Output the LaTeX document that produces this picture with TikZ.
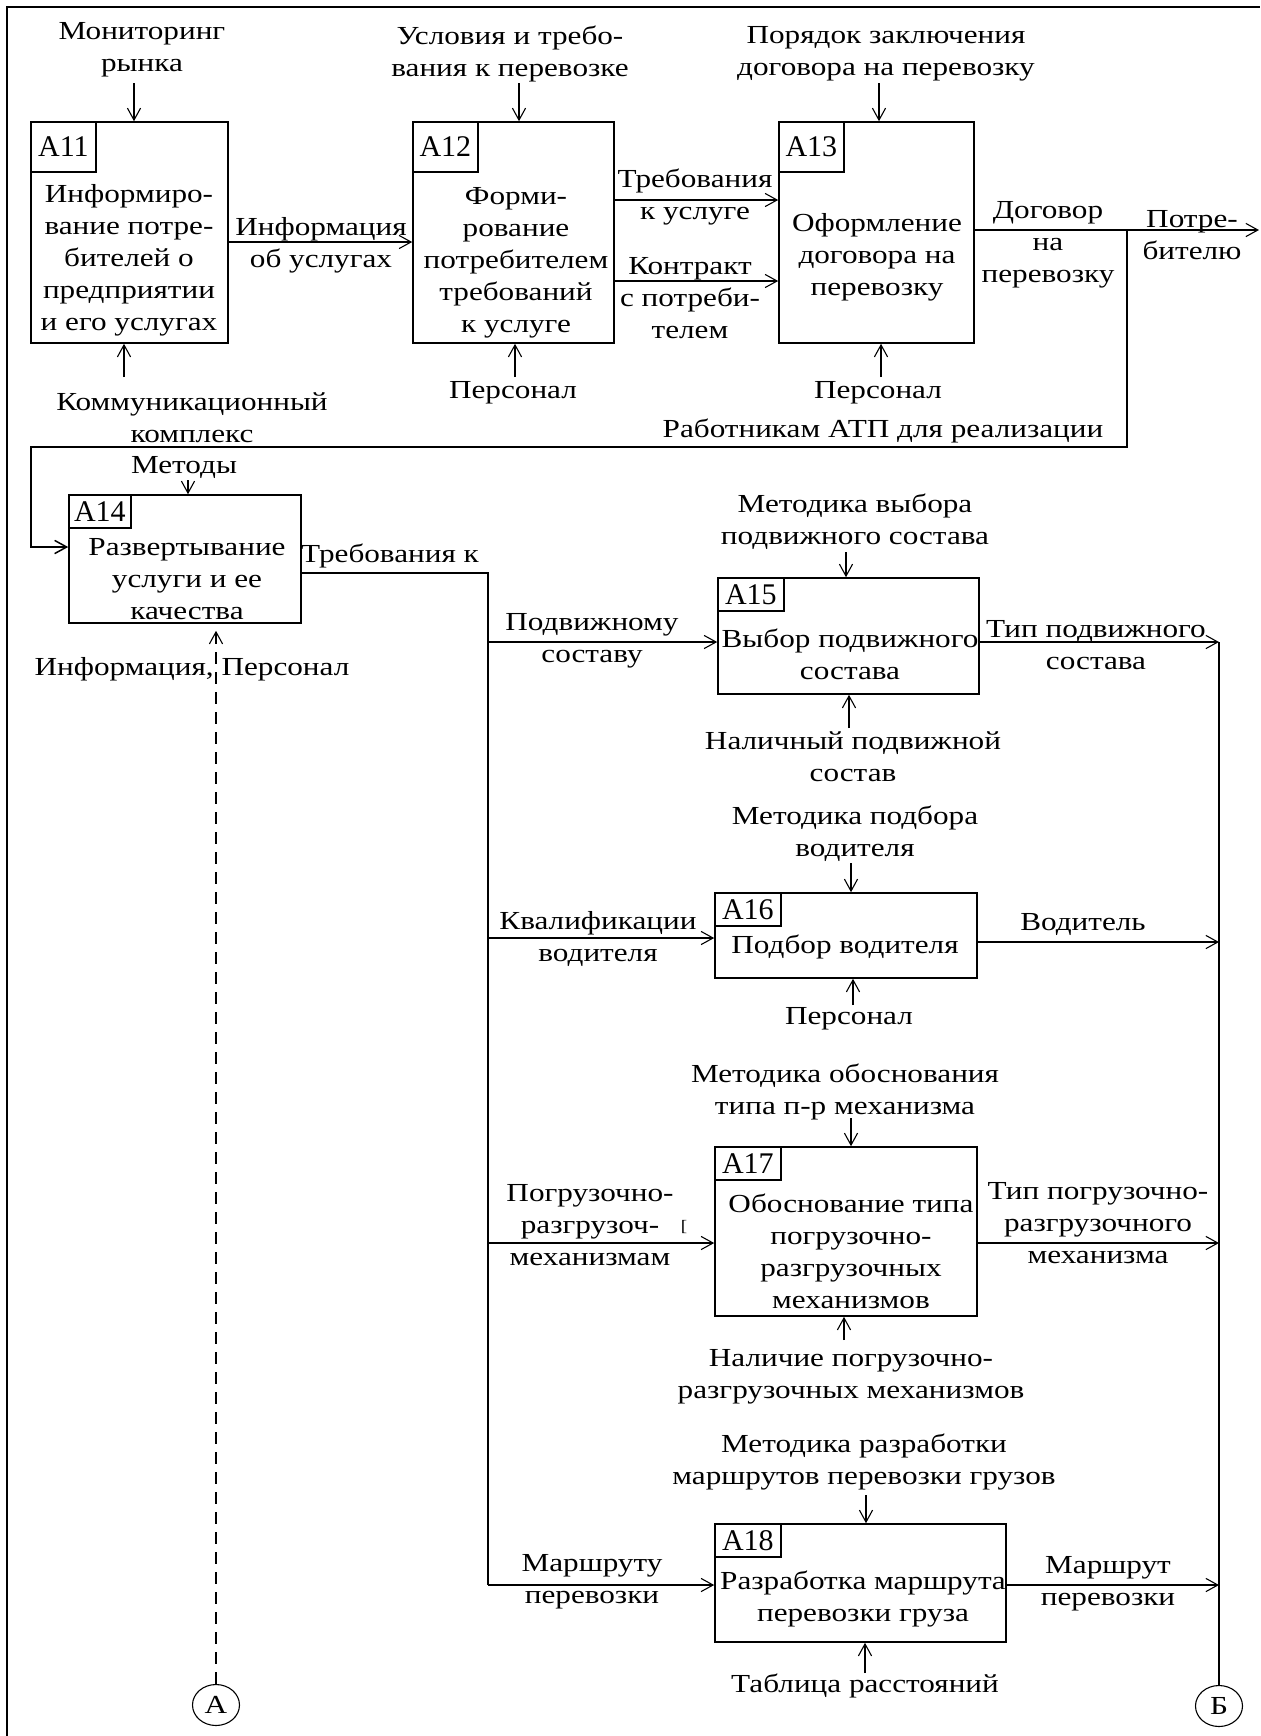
\documentclass[tikz,border=0pt]{standalone}
\usepackage{fontspec}
\setmainfont{Liberation Serif}[FakeStretch=1.2]
\newfontfamily\idfam{Liberation Serif}
\usetikzlibrary{arrows.meta,fit,shapes.geometric}
\newcommand\bodyfont{\fontsize{13}{16}\selectfont}
\newcommand\idfont{\idfam\fontsize{15}{17}\selectfont}
\tikzset{
  box/.style={draw, line width=0.8pt, inner sep=0pt},
  idbig/.style={draw, line width=0.7pt, inner sep=0pt, minimum width=32.5pt, minimum height=25pt, font=\idfont, anchor=north west},
  idsmall/.style={draw, line width=0.7pt, inner sep=0pt, minimum width=33pt, minimum height=16.5pt, font=\idfont, anchor=north west},
  lbl/.style={align=center, inner sep=0pt, font=\bodyfont},
  arr/.style={-{Straight Barb[length=6pt,width=6.6pt]}, line width=0.55pt},
  trunk/.style={line width=0.95pt},
  conn/.style={draw, ellipse, line width=0.55pt, inner sep=0pt, minimum width=23.5pt, minimum height=20.5pt, font=\bodyfont},
}
\begin{document}
\begin{tikzpicture}[x=0.5pt,y=-0.5pt]
\useasboundingbox (0,0) rectangle (1260,1736);
% frame
\coordinate (fbl) at (7,1736);
\coordinate (ftl) at (7,7);
\coordinate (ftr) at (1260,7);
\draw[line width=1.3pt] (fbl) -- (ftl) -- (ftr);

% activity boxes
\node[box, fit={(31,122)(228,343)}] (a11) {};
\node[box, fit={(413,122)(614,343)}] (a12) {};
\node[box, fit={(779,122)(974,343)}] (a13) {};
\node[box, fit={(69,495)(301,623)}] (a14) {};
\node[box, fit={(718,578)(979,694)}] (a15) {};
\node[box, fit={(715,893)(977,978)}] (a16) {};
\node[box, fit={(715,1147)(977,1316)}] (a17) {};
\node[box, fit={(715,1524)(1006,1642)}] (a18) {};

% id boxes
\node[idbig] (a11n) at (a11.north west) {A11};
\node[idbig] (a12n) at (a12.north west) {A12};
\node[idbig] (a13n) at (a13.north west) {A13};
\node[idsmall, minimum width=31pt] (a14n) at (a14.north west) {A14};
\node[idsmall] (a15n) at (a15.north west) {A15};
\node[idsmall] (a16n) at (a16.north west) {A16};
\node[idsmall] (a17n) at (a17.north west) {A17};
\node[idsmall] (a18n) at (a18.north west) {A18};

% box texts
\node[lbl] (a11t) at (129,260) {Информиро-\\вание потре-\\бителей о\\предприятии\\и его услугах};
\node[lbl] (a12t) at (516,263) {Форми-\\рование\\потребителем\\требований\\к услуге};
\node[lbl] (a13t) at (877,257) {Оформление\\договора на\\перевозку};
\node[lbl] (a14t) at (187,579) {Развертывание\\услуги и ее\\качества};
\node[lbl] (a15t) at (850,654) {Выбор подвижного\\состава};
\node[lbl] (a16t) at (845,947) {Подбор водителя};
\node[lbl] (a17t) at (851,1251) {Обоснование типа\\погрузочно-\\разгрузочных\\механизмов};
\node[lbl] (a18t) at (863,1599) {Разработка маршрута\\перевозки груза};

% arrow labels
\node[lbl] (l1) at (142,50) {Мониторинг\\рынка};
\node[lbl] (l2) at (510,54) {Условия и требо-\\вания к перевозке};
\node[lbl] (l3) at (886,54) {Порядок заключения\\договора на перевозку};
\node[lbl] (l4) at (321,245) {Информация\\об услугах};
\node[lbl] (l5) at (695,197) {Требования\\к услуге};
\node[lbl] (l6) at (690,298) {Контракт\\с потреби-\\телем};
\node[lbl] (l7) at (1048,245) {Договор\\на\\перевозку};
\node[lbl] (l8) at (1192,235) {Потре-\\бителю};
\node[lbl] (l9) at (192,418) {Коммуникационный\\комплекс};
\node[lbl] (l10) at (513,393) {Персонал};
\node[lbl] (l11) at (878,393) {Персонал};
\node[lbl] (l12) at (883,431) {Работникам АТП для реализации};
\node[lbl] (l13) at (184,467) {Методы};
\node[lbl] (l14) at (390,556) {Требования к};
\node[lbl] (l15) at (192,669) {Информация, Персонал};
\node[lbl] (l16) at (855,522) {Методика выбора\\подвижного состава};
\node[lbl] (l17) at (592,641) {Подвижному\\составу};
\node[lbl] (l18) at (1096,645) {Тип подвижного\\состава};
\node[lbl] (l19) at (853,757) {Наличный подвижной\\состав};
\node[lbl] (l20) at (855,834) {Методика подбора\\водителя};
\node[lbl] (l21) at (598,939) {Квалификации\\водителя};
\node[lbl] (l22) at (1083,924) {Водитель};
\node[lbl] (l23) at (849,1019) {Персонал};
\node[lbl] (l24) at (845,1092) {Методика обоснования\\типа п-р механизма};
\node[lbl] (l25) at (590,1225) {Погрузочно-\\разгрузоч-\\механизмам};
\node[inner sep=0pt, font=\fontsize{8}{9}\selectfont] (l25b) at (684,1227) {[};
\node[lbl] (l26) at (1098,1223) {Тип погрузочно-\\разгрузочного\\механизма};
\node[lbl] (l27) at (851,1377) {Наличие погрузочно-\\разгрузочных механизмов};
\node[lbl] (l28) at (864,1462) {Методика разработки\\маршрутов перевозки грузов};
\node[lbl] (l29) at (592,1582) {Маршруту\\перевозки};
\node[lbl] (l30) at (1108,1584) {Маршрут\\перевозки};
\node[lbl] (l31) at (865,1686) {Таблица расстояний};

% connector circles
\node[conn] (ca) at (216,1705) {А};
\node[conn] (cb) at (1219,1706) {Б};

% free ends
\coordinate (c11t) at (134,83);
\coordinate (c11b) at (124,377);
\coordinate (c12t) at (519,83);
\coordinate (c12b) at (515,377);
\coordinate (c13t) at (879,83);
\coordinate (c13b) at (881,377);
\coordinate (c14t) at (188,480);
\coordinate (c15t) at (846,552);
\coordinate (c15b) at (849,728);
\coordinate (c16t) at (851,863);
\coordinate (c16b) at (853,1005);
\coordinate (c17t) at (851,1118);
\coordinate (c17b) at (844,1340);
\coordinate (c18t) at (866,1495);
\coordinate (c18b) at (865,1673);
\coordinate (out) at (1259,230);
\coordinate (br1) at (1127,230);
\coordinate (br2) at (1127,447);
\coordinate (br3) at (31,447);
\coordinate (br4) at (31,547);
\coordinate (t0) at (488,573);
\coordinate (t1) at (488,642);
\coordinate (t2) at (488,938);
\coordinate (t3) at (488,1243);
\coordinate (t4) at (488,1585);
\coordinate (r1) at (1219,642);
\coordinate (r2) at (1219,942);
\coordinate (r3) at (1219,1243);
\coordinate (r4) at (1219,1585);

% controls and mechanisms
\draw[arr] (c11t) -- (c11t |- a11.north);
\draw[arr] (c11b) -- (c11b |- a11.south);
\draw[arr] (c12t) -- (c12t |- a12.north);
\draw[arr] (c12b) -- (c12b |- a12.south);
\draw[arr] (c13t) -- (c13t |- a13.north);
\draw[arr] (c13b) -- (c13b |- a13.south);
\draw[arr] (c14t) -- (c14t |- a14.north);
\draw[arr] (c15t) -- (c15t |- a15.north);
\draw[arr] (c15b) -- (c15b |- a15.south);
\draw[arr] (c16t) -- (c16t |- a16.north);
\draw[arr] (c16b) -- (c16b |- a16.south);
\draw[arr] (c17t) -- (c17t |- a17.north);
\draw[arr] (c17b) -- (c17b |- a17.south);
\draw[arr] (c18t) -- (c18t |- a18.north);
\draw[arr] (c18b) -- (c18b |- a18.south);
\draw[arr, dashed, dash pattern=on 6pt off 4pt, shorten >=3.5pt] (ca) -- (ca |- a14.south);

% top row flows
\draw[arr] (a11.east |- 0,242) -- (a12.west |- 0,242);
\draw[arr] (a12.east |- 0,200) -- (a13.west |- 0,200);
\draw[arr] (a12.east |- 0,281) -- (a13.west |- 0,281);
\draw[arr] (a13.east |- out) -- (out);
\draw[arr, line width=0.75pt] (br1) -- (br2) -- (br3) -- (br4) -- (a14.west |- br4);

% A14 output trunk
\draw[trunk] (a14.east |- t0) -- (t0) -- (t4);
\draw[arr] (t1) -- (a15.west |- t1);
\draw[arr] (t2) -- (a16.west |- t2);
\draw[arr] (t3) -- (a17.west |- t3);
\draw[arr] (t4) -- (a18.west |- t4);

% outputs to Б
\draw[arr] (a15.east |- r1) -- (r1);
\draw[arr] (a16.east |- r2) -- (r2);
\draw[arr] (a17.east |- r3) -- (r3);
\draw[arr] (a18.east |- r4) -- (r4);
\draw[trunk] (r1) -- (cb);
\end{tikzpicture}
\end{document}
